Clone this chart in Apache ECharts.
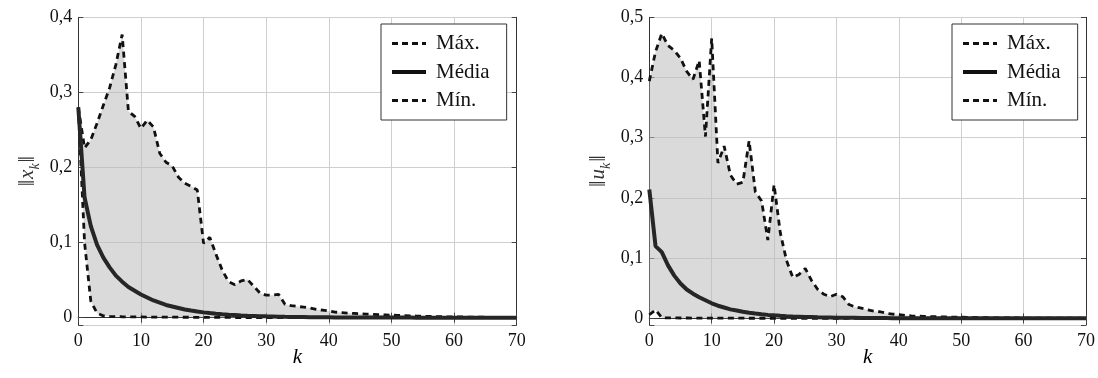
<!DOCTYPE html>
<html>
<head>
<meta charset="utf-8">
<script src="https://cdn.jsdelivr.net/npm/echarts@6/dist/echarts.min.js"></script>
<style>
  html, body { margin: 0; padding: 0; background: #fff; }
  #chart { width: 1098px; height: 378px; }
</style>
</head>
<body>
<div id="chart"></div>
<script>
// ---------- data ----------
const kValues = Array.from({length: 71}, (_, i) => String(i)); // k = 0..70
const legendNames = ['Máx.', 'Média', 'Mín.'];

// Left chart: ||x_k||
const xMax = [0.280,0.226,0.237,0.259,0.283,0.306,0.337,0.377,0.275,0.268,
              0.252,0.263,0.254,0.219,0.207,0.202,0.187,0.179,0.175,0.170,
              0.099,0.107,0.084,0.063,0.048,0.044,0.049,0.051,0.042,0.033,
              0.030,0.030,0.031,0.018,0.016,0.015,0.014,0.013,0.011,0.010,
              0.0090,0.0075,0.0068,0.0062,0.0057,0.0052,0.0048,0.0044,0.0040,0.0037,
              0.0034,0.0031,0.0028,0.0025,0.0022,0.0020,0.0018,0.0016,0.0014,0.0012,
              0.0011,0.0010,0.0009,0.0008,0.0007,0.0006,0.0005,0.0005,0.0004,0.0004,
              0.0003];
const xMean = [0.280,0.160,0.122,0.097,0.080,0.067,0.056,0.048,0.041,0.036,
               0.031,0.027,0.023,0.020,0.017,0.015,0.013,0.011,0.0095,0.0082,
               0.0071,0.0062,0.0054,0.0047,0.0041,0.0036,0.0031,0.0027,0.0024,0.0021,
               0.0018,0.0016,0.0014,0.0012,0.0011,0.0009,0.0008,0.0007,0.0006,0.0005,
               0.0005,0.0004,0.0004,0.0004,0.0003,0.0003,0.0003,0.0003,0.0002,0.0002,
               0.0002,0.0002,0.0002,0.0002,0.0001,0.0001,0.0001,0.0001,0.0001,0.0001,
               0.0001,0.0001,0.0001,0.0001,0.0001,0.0001,0.0001,0.0001,0.0001,0.0001,
               0.0001];
const xMin = [0.280,0.100,0.022,0.006,0.0025,0.0018,0.0015,0.0013,0.0012,0.0011,
              0.0010,0.0009,0.0009,0.0008,0.0008,0.0007,0.0007,0.0006,0.0006,0.0005,
              0.0005,0.0005,0.0004,0.0004,0.0004,0.0003,0.0003,0.0003,0.0003,0.0002,
              0.0002,0.0002,0.0002,0.0002,0.0002,0.0001,0.0001,0.0001,0.0001,0.0001,
              0.0001,0.0001,0.0001,0.0001,0.0001,0.0001,0.0001,0.0001,0.0001,0.0001,
              0,0,0,0,0,0,0,0,0,0,
              0,0,0,0,0,0,0,0,0,0,
              0];

// Right chart: ||u_k||
const uMax = [0.394,0.443,0.473,0.453,0.445,0.432,0.410,0.397,0.428,0.302,
              0.465,0.258,0.286,0.238,0.223,0.226,0.295,0.210,0.195,0.130,
              0.222,0.142,0.096,0.068,0.073,0.083,0.063,0.048,0.040,0.036,
              0.040,0.036,0.023,0.019,0.017,0.014,0.012,0.011,0.0085,0.0072,
              0.0060,0.0050,0.0042,0.0037,0.0033,0.0030,0.0027,0.0025,0.0023,0.0021,
              0.0019,0.0017,0.0015,0.0013,0.0011,0.0010,0.0009,0.0008,0.0007,0.0006,
              0.0005,0.0005,0.0004,0.0004,0.0003,0.0003,0.0003,0.0002,0.0002,0.0002,
              0.0001];
const uMean = [0.214,0.120,0.110,0.088,0.071,0.058,0.048,0.041,0.035,0.030,
               0.025,0.021,0.018,0.015,0.013,0.011,0.0093,0.0080,0.0068,0.0058,
               0.0050,0.0043,0.0037,0.0032,0.0028,0.0024,0.0021,0.0018,0.0016,0.0014,
               0.0012,0.0011,0.0010,0.0009,0.0008,0.0007,0.0006,0.0005,0.0005,0.0004,
               0.0004,0.0003,0.0003,0.0003,0.0002,0.0002,0.0002,0.0002,0.0002,0.0001,
               0.0001,0.0001,0.0001,0.0001,0.0001,0.0001,0.0001,0.0001,0.0001,0.0001,
               0.0001,0.0001,0.0001,0.0001,0.0001,0.0001,0.0001,0.0001,0.0001,0.0001,
               0.0001];
const uMin = [0.006,0.014,0.001,0.0008,0.0007,0.0006,0.0006,0.0005,0.0005,0.0004,
              0.0004,0.0004,0.0003,0.0003,0.0003,0.0003,0.0002,0.0002,0.0002,0.0002,
              0.0002,0.0002,0.0001,0.0001,0.0001,0.0001,0.0001,0.0001,0.0001,0.0001,
              0,0,0,0,0,0,0,0,0,0,
              0,0,0,0,0,0,0,0,0,0,
              0,0,0,0,0,0,0,0,0,0,
              0,0,0,0,0,0,0,0,0,0,
              0];

// ---------- helpers ----------
const FONT = 'Liberation Serif';
const DASH = [6, 4.5];
const diff = (hi, lo) => hi.map((v, i) => v - lo[i]);
const yFmt = (v) => {
  if (v < -1e-9) return '';
  const r = Math.round(v * 10) / 10;
  if (Math.abs(v - r) > 1e-6) return '';
  return String(r).replace('.', ',');
};

function xAxes(gridIndex) {
  const base = { type: 'category', gridIndex, data: kValues, boundaryGap: false };
  return [
    Object.assign({}, base, {
      position: 'bottom',
      name: '{i|k}', nameLocation: 'middle', nameGap: 22, nameMoveOverlap: false,
      nameTextStyle: { rich: { i: { fontFamily: FONT, fontStyle: 'italic', fontSize: 21, color: '#000' } } },
      axisLine: { show: true, lineStyle: { color: '#333', width: 1 } },
      axisTick: { show: true, inside: true, length: 5, interval: 9, lineStyle: { color: '#444' } },
      axisLabel: { show: true, interval: 9, margin: 7, fontFamily: FONT, fontSize: 18, color: '#111' },
      splitLine: { show: true, interval: 9, lineStyle: { color: '#cfcfcf', width: 1 } }
    }),
    Object.assign({}, base, {
      position: 'top',
      axisLine: { show: true, lineStyle: { color: '#333', width: 1 } },
      axisTick: { show: true, inside: true, length: 5, interval: 9, lineStyle: { color: '#444' } },
      axisLabel: { show: false },
      splitLine: { show: false }
    })
  ];
}

function yAxes(gridIndex, ymin, ymax, symbol) {
  const base = { type: 'value', gridIndex, min: ymin, max: ymax, minInterval: 0.1, maxInterval: 0.1 };
  return [
    Object.assign({}, base, {
      position: 'left',
      name: '{a|‖}{b|' + symbol + '}{c|k}{a|‖}',
      nameLocation: 'middle', nameGap: 38, nameRotate: 90, nameMoveOverlap: false,
      nameTextStyle: {
        rich: {
          a: { fontFamily: FONT, fontSize: 23, color: '#333', lineHeight: 24, verticalAlign: 'top' },
          b: { fontFamily: FONT, fontSize: 21, fontStyle: 'italic', color: '#333', lineHeight: 24, verticalAlign: 'top', padding: [1, 0, 0, 1] },
          c: { fontFamily: FONT, fontSize: 14, fontStyle: 'italic', color: '#333', lineHeight: 14, padding: [12, 1, 0, 0], verticalAlign: 'top' }
        }
      },
      axisLine: { show: true, lineStyle: { color: '#333', width: 1 } },
      axisTick: { show: true, inside: true, length: 5, lineStyle: { color: '#444' } },
      axisLabel: { show: true, margin: 6, fontFamily: FONT, fontSize: 18, color: '#111', formatter: yFmt },
      splitLine: { show: true, lineStyle: { color: '#cfcfcf', width: 1 } }
    }),
    Object.assign({}, base, {
      position: 'right',
      axisLine: { show: true, lineStyle: { color: '#333', width: 1 } },
      axisTick: { show: true, inside: true, length: 5, lineStyle: { color: '#444' } },
      axisLabel: { show: false },
      splitLine: { show: false }
    })
  ];
}

function seriesFor(xi, yi, hi, mean, lo, tag) {
  return [
    { name: 'base' + tag, type: 'line', xAxisIndex: xi, yAxisIndex: yi, stack: 'band' + tag,
      data: lo, symbol: 'none', silent: true, lineStyle: { opacity: 0, width: 0 }, z: 1 },
    { name: 'band' + tag, type: 'line', xAxisIndex: xi, yAxisIndex: yi, stack: 'band' + tag,
      data: diff(hi, lo), symbol: 'none', silent: true, lineStyle: { opacity: 0, width: 0 },
      areaStyle: { color: '#bbbbbb', opacity: 0.55 }, z: 1 },
    { name: 'Máx.', type: 'line', xAxisIndex: xi, yAxisIndex: yi, data: hi, symbol: 'none',
      lineStyle: { color: '#111', width: 2.8, type: DASH }, itemStyle: { color: '#111' }, z: 3 },
    { name: 'Mín.', type: 'line', xAxisIndex: xi, yAxisIndex: yi, data: lo, symbol: 'none',
      lineStyle: { color: '#111', width: 2.8, type: DASH }, itemStyle: { color: '#111' }, z: 3 },
    { name: 'Média', type: 'line', xAxisIndex: xi, yAxisIndex: yi, data: mean, symbol: 'none',
      lineStyle: { color: '#262626', width: 4 }, itemStyle: { color: '#262626' }, z: 4 }
  ];
}

function legendAt(left) {
  return {
    left: left, top: 24, orient: 'vertical', selectedMode: false,
    data: [
      { name: legendNames[0], lineStyle: { width: 3, type: [6, 4], color: '#111' } },
      { name: legendNames[1], lineStyle: { width: 4, type: 'solid', color: '#111' } },
      { name: legendNames[2], lineStyle: { width: 3, type: [6, 4], color: '#111' } }
    ],
    backgroundColor: '#fff', borderColor: '#333', borderWidth: 1, borderRadius: 0,
    padding: [9, 17, 9, 9], itemWidth: 34, itemHeight: 20, itemGap: 7.5,
    itemStyle: { opacity: 0 },
    textStyle: { fontFamily: FONT, fontSize: 21, color: '#111', padding: [0, 0, 0, 5], lineHeight: 20 }
  };
}

const chart = echarts.init(document.getElementById('chart'), null, { renderer: 'canvas' });
chart.setOption({
  animation: false,
  backgroundColor: '#fff',
  grid: [
    { left: 78.3, top: 17.3, width: 438.4, height: 307.7, show: false },
    { left: 649.3, top: 17.3, width: 437.4, height: 307.7, show: false }
  ],
  legend: [legendAt(381), legendAt(952)],
  xAxis: [].concat(xAxes(0), xAxes(1)),
  yAxis: [].concat(yAxes(0, -0.0097, 0.4, 'x'), yAxes(1, -0.011, 0.5, 'u')),
  series: [].concat(
    seriesFor(0, 0, xMax, xMean, xMin, 'L'),
    seriesFor(2, 2, uMax, uMean, uMin, 'R')
  )
});
</script>
</body>
</html>
